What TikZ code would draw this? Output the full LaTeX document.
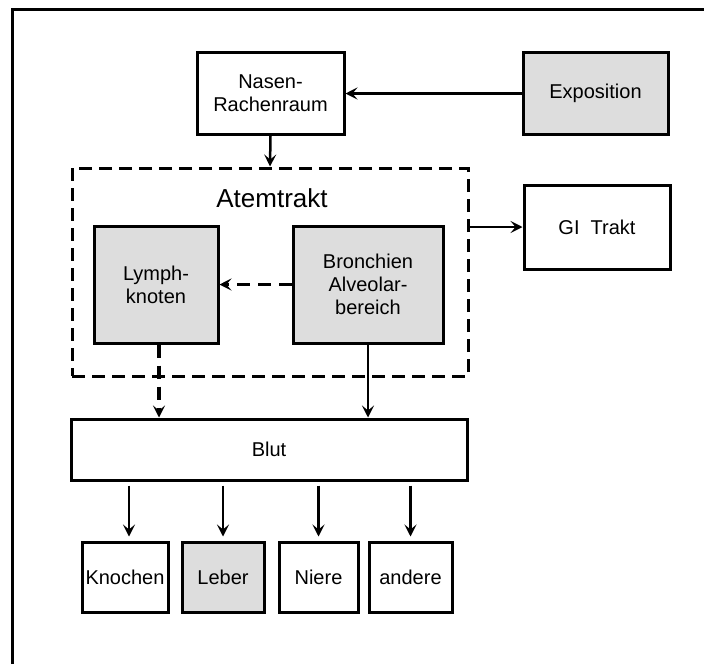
\documentclass[tikz,border=0pt]{standalone}
\usepackage{fontspec}
\setmainfont{Liberation Sans}
\usetikzlibrary{arrows.meta}
\definecolor{boxgray}{RGB}{221,221,221}
\begin{document}
\begin{tikzpicture}[x=1pt,y=-1pt,
  box/.style={draw,line width=3pt,inner sep=0pt,align=center,
    font=\fontsize{20}{23}\selectfont},
  grey/.style={box,fill=boxgray},
  arr/.style={line width=2.5pt,-{Stealth[length=12pt,width=12pt,inset=5pt]}},
  darr/.style={arr,dash pattern=on 13pt off 8pt,line width=3.2pt},
  group/.style={draw,line width=3pt,dash pattern=on 13pt off 7pt,inner sep=0pt}]
\useasboundingbox (0,0) rectangle (704,664);
\draw[line width=3pt] (12,664) -- (12,9.5) -- (704,9.5);

\node[box,minimum width=147pt,minimum height=82pt] (nasen) at (270.5,93.5) {Nasen-\\Rachenraum};
\node[grey,minimum width=145pt,minimum height=82pt] (expo) at (595.5,93.5) {Exposition};
\node[group,minimum width=396pt,minimum height=208pt] (atem) at (270,272) {};
\node[font=\fontsize{26}{30}\selectfont] (atemlabel) at (272,198) {Atemtrakt};
\node[box,minimum width=146pt,minimum height=84pt] (gi) at (597,227) {GI\ \ Trakt};
\node[grey,minimum width=124pt,minimum height=117pt] (lymph) at (156,284.5) {Lymph-\\knoten};
\node[grey,minimum width=150pt,minimum height=117pt] (bron) at (368,284.5) {Bronchien\\Alveolar-\\bereich};
\node[box,minimum width=396pt,minimum height=61pt] (blut) at (269,449.5) {Blut};
\node[box,minimum width=86pt,minimum height=70pt] (knochen) at (125,577) {Knochen};
\node[grey,minimum width=82pt,minimum height=70pt] (leber) at (223,577) {Leber};
\node[box,minimum width=79pt,minimum height=70pt] (niere) at (318.5,577) {Niere};
\node[box,minimum width=83pt,minimum height=70pt] (andere) at (410.5,577) {andere};

\draw[arr] (expo.west) -- (nasen.east);
\draw[arr] (nasen.south) -- (atem.north);
\draw[arr] (atem.east |- gi.west) -- (gi.west);
\draw[darr] (bron.west) -- (lymph.east);
\draw[darr] ([xshift=3pt]lymph.south) -- ([xshift=3pt]lymph.south |- blut.north);
\draw[arr] (bron.south) -- (bron.south |- blut.north);
\draw[arr] ([xshift=4pt,yshift=-4pt]knochen.north |- blut.south) -- ([xshift=4pt,yshift=4pt]knochen.north);
\draw[arr] ([yshift=-4pt]leber.north |- blut.south) -- ([yshift=4pt]leber.north);
\draw[arr] ([yshift=-4pt]niere.north |- blut.south) -- ([yshift=4pt]niere.north);
\draw[arr] ([yshift=-4pt]andere.north |- blut.south) -- ([yshift=4pt]andere.north);
\end{tikzpicture}
\end{document}
